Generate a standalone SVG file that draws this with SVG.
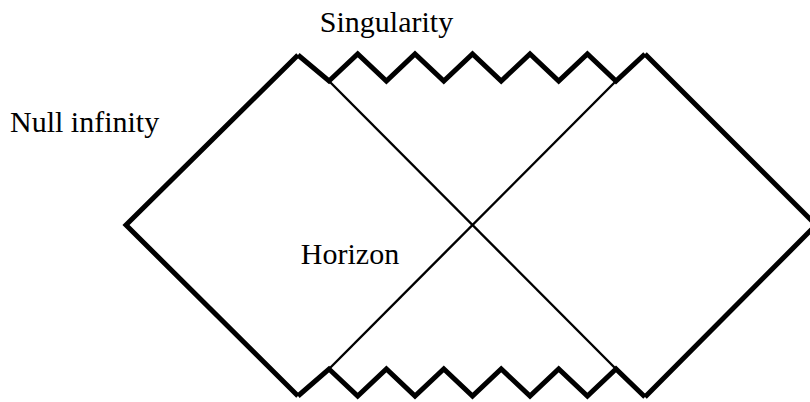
<svg xmlns="http://www.w3.org/2000/svg" width="810" height="402" viewBox="0 0 810 402">
<style>
.thick{fill:none;stroke:#000;stroke-width:5;stroke-linejoin:miter;stroke-linecap:butt}
.thin{fill:none;stroke:#000;stroke-width:2.4}
.lbl{font-family:"Liberation Serif","Times New Roman",serif;font-size:30px;fill:#000}
</style>
<rect width="810" height="402" fill="#fff"/>
<g id="connectors">
<line class="thin" x1="329" y1="81" x2="616" y2="369"/>
<line class="thin" x1="616" y1="81" x2="329" y2="369"/>
</g>
<g id="left-region">
<polyline class="thick" points="298,55 126,225 298,396"/>
</g>
<g id="right-region">
<polyline class="thick" points="645,54 816,225 645,397"/>
</g>
<g id="singularity-top">
<polyline class="thick" points="298,55 329,81 357.7,54 386.4,81 415,54 443.8,81 472.5,54 501.2,81 530,54 558.7,81 587.4,54 616,81 645,54"/>
</g>
<g id="singularity-bottom">
<polyline class="thick" points="298,396 329,369 357.7,396 386.4,369 415,396 443.8,369 472.5,396 501.2,369 530,396 558.7,369 587.4,396 616,369 645,397"/>
</g>
<g id="labels">
<text class="lbl" x="386.5" y="32" text-anchor="middle">Singularity</text>
<text class="lbl" x="10" y="132">Null infinity</text>
<text class="lbl" x="350" y="264" text-anchor="middle">Horizon</text>
</g>
</svg>
